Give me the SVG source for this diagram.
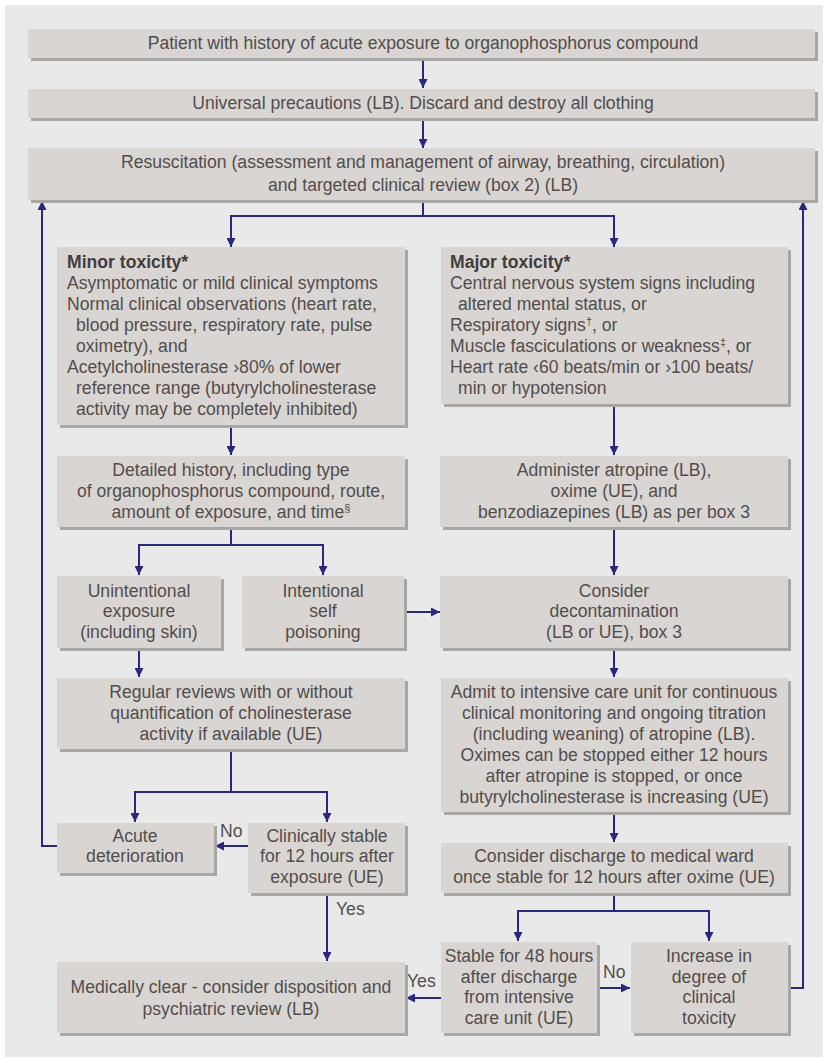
<svg xmlns="http://www.w3.org/2000/svg" width="827" height="1063" viewBox="0 0 827 1063">
<defs>
<style>
.sh{fill:#aaa6a3}
.bx{fill:#d9d5d2}
text{font-family:"Liberation Sans",Arial,sans-serif;font-size:17.6px;fill:#524d4d}
.c{text-anchor:middle}
.b{font-weight:bold;fill:#423d3d}
.sup{font-size:11px}
.ln{fill:none;stroke:#29287c;stroke-width:2}
.lbl{font-size:17.6px}
</style>
<marker id="ah" viewBox="0 0 10 10" refX="10" refY="5" markerWidth="10" markerHeight="9" markerUnits="userSpaceOnUse" orient="auto">
<path d="M0,0 L10,5 L0,10 Z" fill="#29287c"/>
</marker>
</defs>
<rect x="0" y="0" width="827" height="1063" fill="#ffffff"/>
<rect x="5" y="5" width="818" height="1052" fill="#e9e9e9"/>

<g id="connectors">
<path class="ln" d="M423,58 V88" marker-end="url(#ah)"/>
<path class="ln" d="M423,118 V148" marker-end="url(#ah)"/>
<path class="ln" d="M423,200 V216 H231 V247" marker-end="url(#ah)"/>
<path class="ln" d="M423,216 H614 V247" marker-end="url(#ah)"/>
<path class="ln" d="M231,425 V455" marker-end="url(#ah)"/>
<path class="ln" d="M614,404 V455" marker-end="url(#ah)"/>
<path class="ln" d="M231,527 V545 H139 V575" marker-end="url(#ah)"/>
<path class="ln" d="M231,545 H323 V575" marker-end="url(#ah)"/>
<path class="ln" d="M614,527 V575" marker-end="url(#ah)"/>
<path class="ln" d="M404,612 H440" marker-end="url(#ah)"/>
<path class="ln" d="M139,648 V677" marker-end="url(#ah)"/>
<path class="ln" d="M614,648 V677" marker-end="url(#ah)"/>
<path class="ln" d="M231,749 V792 H135 V822" marker-end="url(#ah)"/>
<path class="ln" d="M231,792 H327 V822" marker-end="url(#ah)"/>
<path class="ln" d="M248,846 H215" marker-end="url(#ah)"/>
<path class="ln" d="M57,846 H42 V201" marker-end="url(#ah)"/>
<path class="ln" d="M614,812 V842" marker-end="url(#ah)"/>
<path class="ln" d="M327,893 V961" marker-end="url(#ah)"/>
<path class="ln" d="M614,893 V911 H518 V941" marker-end="url(#ah)"/>
<path class="ln" d="M614,911 H709 V941" marker-end="url(#ah)"/>
<path class="ln" d="M597,988 H630" marker-end="url(#ah)"/>
<path class="ln" d="M441,998 H406" marker-end="url(#ah)"/>
<path class="ln" d="M788,988 H803 V201" marker-end="url(#ah)"/>
<text class="lbl" x="220" y="837">No</text>
<text class="lbl" x="336" y="915">Yes</text>
<text class="lbl" x="407" y="987">Yes</text>
<text class="lbl" x="603" y="978">No</text>
</g>

<g id="n1">
<rect class="sh" x="31" y="32" width="787" height="29"/>
<rect class="bx" x="28" y="29" width="787" height="29"/>
<text class="c" x="423" y="49">Patient with history of acute exposure to organophosphorus compound</text>
</g>
<g id="n2">
<rect class="sh" x="31" y="92" width="787" height="29"/>
<rect class="bx" x="28" y="89" width="787" height="29"/>
<text class="c" x="423" y="109">Universal precautions (LB). Discard and destroy all clothing</text>
</g>
<g id="n3">
<rect class="sh" x="31" y="151" width="787" height="52"/>
<rect class="bx" x="28" y="148" width="787" height="52"/>
<text class="c" x="423" y="168">Resuscitation (assessment and management of airway, breathing, circulation)</text>
<text class="c" x="423" y="191">and targeted clinical review (box 2) (LB)</text>
</g>

<g id="minor">
<rect class="sh" x="60" y="250" width="348" height="178"/>
<rect class="bx" x="57" y="247" width="348" height="178"/>
<text class="b" x="67" y="268">Minor toxicity*</text>
<text x="67" y="289">Asymptomatic or mild clinical symptoms</text>
<text x="67" y="310">Normal clinical observations (heart rate,</text>
<text x="76" y="331">blood pressure, respiratory rate, pulse</text>
<text x="76" y="352">oximetry), and</text>
<text x="67" y="373">Acetylcholinesterase ›80% of lower</text>
<text x="76" y="394">reference range (butyrylcholinesterase</text>
<text x="76" y="415">activity may be completely inhibited)</text>
</g>

<g id="major">
<rect class="sh" x="444" y="250" width="347" height="157"/>
<rect class="bx" x="441" y="247" width="347" height="157"/>
<text class="b" x="450" y="268">Major toxicity*</text>
<text x="450" y="289">Central nervous system signs including</text>
<text x="458" y="310">altered mental status, or</text>
<text x="450" y="331">Respiratory signs<tspan class="sup" dy="-6">†</tspan><tspan dy="6">, or</tspan></text>
<text x="450" y="352">Muscle fasciculations or weakness<tspan class="sup" dy="-6">‡</tspan><tspan dy="6">, or</tspan></text>
<text x="450" y="373">Heart rate ‹60 beats/min or ›100 beats/</text>
<text x="458" y="394">min or hypotension</text>
</g>

<g id="history">
<rect class="sh" x="60" y="459" width="348" height="71"/>
<rect class="bx" x="57" y="456" width="348" height="71"/>
<text class="c" x="231" y="476">Detailed history, including type</text>
<text class="c" x="231" y="497">of organophosphorus compound, route,</text>
<text class="c" x="231" y="518">amount of exposure, and time<tspan class="sup" dy="-6">§</tspan></text>
</g>

<g id="administer">
<rect class="sh" x="443" y="459" width="348" height="71"/>
<rect class="bx" x="440" y="456" width="348" height="71"/>
<text class="c" x="614" y="476">Administer atropine (LB),</text>
<text class="c" x="614" y="497">oxime (UE), and</text>
<text class="c" x="614" y="518">benzodiazepines (LB) as per box 3</text>
</g>

<g id="unintentional">
<rect class="sh" x="60" y="579" width="164" height="72"/>
<rect class="bx" x="57" y="576" width="164" height="72"/>
<text class="c" x="139" y="597">Unintentional</text>
<text class="c" x="139" y="617">exposure</text>
<text class="c" x="139" y="638">(including skin)</text>
</g>

<g id="intentional">
<rect class="sh" x="245" y="579" width="162" height="72"/>
<rect class="bx" x="242" y="576" width="162" height="72"/>
<text class="c" x="323" y="597">Intentional</text>
<text class="c" x="323" y="617">self</text>
<text class="c" x="323" y="638">poisoning</text>
</g>

<g id="decontamination">
<rect class="sh" x="443" y="579" width="348" height="72"/>
<rect class="bx" x="440" y="576" width="348" height="72"/>
<text class="c" x="614" y="597">Consider</text>
<text class="c" x="614" y="617">decontamination</text>
<text class="c" x="614" y="638">(LB or UE), box 3</text>
</g>

<g id="regular">
<rect class="sh" x="60" y="681" width="348" height="71"/>
<rect class="bx" x="57" y="678" width="348" height="71"/>
<text class="c" x="231" y="698">Regular reviews with or without</text>
<text class="c" x="231" y="719">quantification of cholinesterase</text>
<text class="c" x="231" y="740">activity if available (UE)</text>
</g>

<g id="icu">
<rect class="sh" x="444" y="681" width="347" height="134"/>
<rect class="bx" x="441" y="678" width="347" height="134"/>
<text class="c" x="614" y="698">Admit to intensive care unit for continuous</text>
<text class="c" x="614" y="719">clinical monitoring and ongoing titration</text>
<text class="c" x="614" y="740">(including weaning) of atropine (LB).</text>
<text class="c" x="614" y="761">Oximes can be stopped either 12 hours</text>
<text class="c" x="614" y="782">after atropine is stopped, or once</text>
<text class="c" x="614" y="803">butyrylcholinesterase is increasing (UE)</text>
</g>

<g id="acute">
<rect class="sh" x="60" y="826" width="157" height="50"/>
<rect class="bx" x="57" y="823" width="157" height="50"/>
<text class="c" x="135" y="842">Acute</text>
<text class="c" x="135" y="862">deterioration</text>
</g>

<g id="stable12">
<rect class="sh" x="251" y="826" width="157" height="70"/>
<rect class="bx" x="248" y="823" width="157" height="70"/>
<text class="c" x="327" y="842">Clinically stable</text>
<text class="c" x="327" y="862">for 12 hours after</text>
<text class="c" x="327" y="883">exposure (UE)</text>
</g>

<g id="discharge">
<rect class="sh" x="444" y="846" width="347" height="50"/>
<rect class="bx" x="441" y="843" width="347" height="50"/>
<text class="c" x="614" y="862">Consider discharge to medical ward</text>
<text class="c" x="614" y="883">once stable for 12 hours after oxime (UE)</text>
</g>

<g id="clear">
<rect class="sh" x="60" y="965" width="348" height="71"/>
<rect class="bx" x="57" y="962" width="348" height="71"/>
<text class="c" x="231" y="993">Medically clear - consider disposition and</text>
<text class="c" x="231" y="1015">psychiatric review (LB)</text>
</g>

<g id="stable48">
<rect class="sh" x="444" y="945" width="156" height="91"/>
<rect class="bx" x="441" y="942" width="156" height="91"/>
<text class="c" x="519" y="962">Stable for 48 hours</text>
<text class="c" x="519" y="983">after discharge</text>
<text class="c" x="519" y="1003">from intensive</text>
<text class="c" x="519" y="1024">care unit (UE)</text>
</g>

<g id="increase">
<rect class="sh" x="634" y="945" width="157" height="91"/>
<rect class="bx" x="631" y="942" width="157" height="91"/>
<text class="c" x="709" y="962">Increase in</text>
<text class="c" x="709" y="983">degree of</text>
<text class="c" x="709" y="1003">clinical</text>
<text class="c" x="709" y="1024">toxicity</text>
</g>
</svg>
